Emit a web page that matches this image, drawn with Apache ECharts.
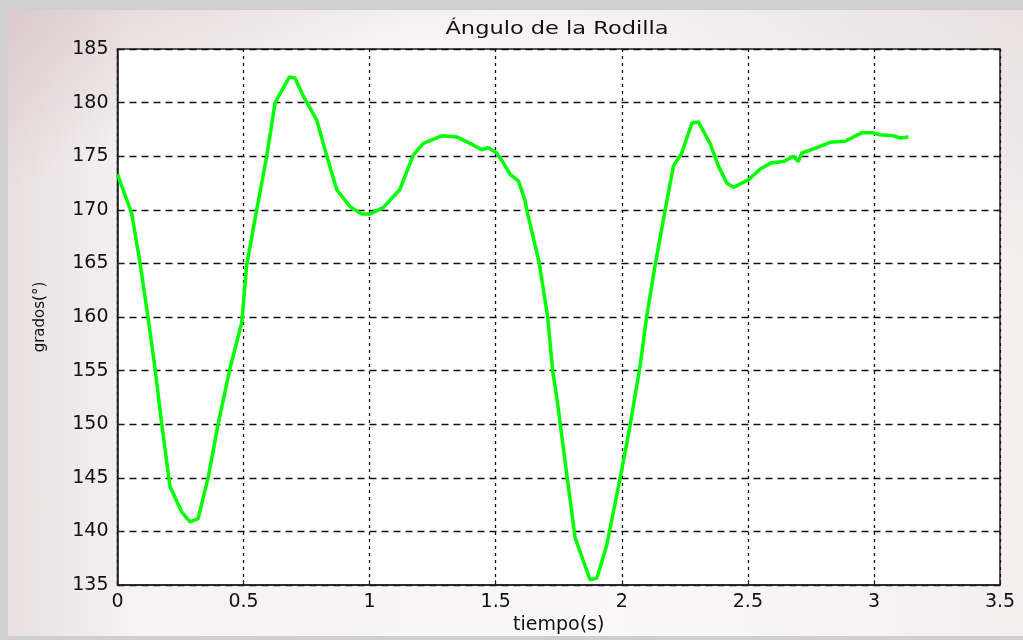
<!DOCTYPE html>
<html>
<head>
<meta charset="utf-8">
<script src="https://cdn.jsdelivr.net/npm/echarts@6/dist/echarts.min.js"></script>
<style>
html,body{margin:0;padding:0;width:1023px;height:640px;overflow:hidden;background:#cfcfcf;}
#bg{position:absolute;left:8px;top:10px;width:1015px;height:626px;
background:
 linear-gradient(160deg, rgba(190,160,165,0.35) 0%, rgba(255,255,255,0) 18%),
 linear-gradient(200deg, rgba(200,180,185,0.25) 0%, rgba(255,255,255,0) 25%),
 linear-gradient(90deg, #e9dfe1 0%, #f6f1f2 12%, #faf8f8 60%, #f4eeef 100%);}
#chart{position:absolute;left:0;top:0;width:1023px;height:640px;}
</style>
</head>
<body>
<div id="bg"></div>
<div id="chart"></div>
<script>
const titleText = "Ángulo de la Rodilla";
const xName = "tiempo(s)";
const yName = "grados(°)";
const time = [0,0.056,0.089,0.122,0.149,0.175,0.208,0.255,0.288,0.32,0.36,0.40,0.446,0.493,0.512,0.552,0.592,0.625,0.682,0.704,0.737,0.79,0.823,0.869,0.922,0.969,1.0,1.054,1.12,1.173,1.213,1.286,1.345,1.398,1.445,1.471,1.504,1.53,1.557,1.59,1.616,1.623,1.673,1.706,1.726,1.745,1.782,1.815,1.874,1.901,1.94,1.993,2.033,2.073,2.099,2.132,2.172,2.205,2.238,2.278,2.304,2.35,2.383,2.416,2.443,2.502,2.549,2.595,2.641,2.681,2.70,2.714,2.774,2.826,2.886,2.952,2.992,3.025,3.077,3.104,3.137];
const angle = [173.3,169.7,165.1,159.8,155.2,150.1,144.2,141.8,140.9,141.2,145.1,150.1,155.2,159.5,164.8,170.0,175.0,180.0,182.4,182.3,180.6,178.4,175.6,171.9,170.3,169.6,169.6,170.2,171.9,175.1,176.2,176.9,176.8,176.2,175.6,175.8,175.3,174.4,173.3,172.7,170.9,170.0,165.0,160.0,155.0,152.0,145.3,139.4,135.5,135.65,138.7,144.9,149.9,155.5,160.1,164.8,170.0,174.1,175.3,178.1,178.2,176.2,174.1,172.5,172.1,172.8,173.8,174.4,174.5,175.0,174.5,175.3,175.8,176.3,176.4,177.2,177.2,177.0,176.9,176.7,176.8];

const data = time.map((t,i)=>[t, angle[i]]);
const font = "DejaVu Sans";
const chart = echarts.init(document.getElementById('chart'), null, {renderer:'canvas'});
chart.setOption({
  animation:false,
  backgroundColor:'transparent',
  graphic:[{type:'text',x:557,y:29,scaleX:1.25,
    style:{text:titleText,fontFamily:font,fontSize:18,fill:'#111',align:'center',verticalAlign:'middle'}}],
  grid:{left:117.5,right:23,top:49,bottom:53,show:true,backgroundColor:'#fff',borderColor:'#222',borderWidth:1.5},
  xAxis:{type:'value',min:0,max:3.5,interval:0.5,
    name:xName,nameLocation:'middle',nameGap:30,
    nameTextStyle:{fontFamily:font,fontSize:19,color:'#111'},
    axisLine:{show:true,lineStyle:{color:'#222',width:1.5}},
    axisTick:{show:true,inside:true,length:5,lineStyle:{color:'#222'}},
    axisLabel:{fontFamily:font,fontSize:19,color:'#111',margin:7},
    splitLine:{show:true,lineStyle:{color:'#111',type:[3,4],width:1.3}}},
  yAxis:{type:'value',min:135,max:185,interval:5,
    name:yName,nameLocation:'middle',nameGap:70,nameRotate:90,
    nameTextStyle:{fontFamily:font,fontSize:15,color:'#111'},
    axisLine:{show:true,lineStyle:{color:'#222',width:1.5}},
    axisTick:{show:true,inside:true,length:5,lineStyle:{color:'#222'}},
    axisLabel:{fontFamily:font,fontSize:19,color:'#111',margin:9},
    splitLine:{show:true,lineStyle:{color:'#111',type:[7,5],width:1.3}}},
  series:[{type:'line',data:data,showSymbol:false,smooth:false,
    lineStyle:{color:'#00ff00',width:3.5},itemStyle:{color:'#00ff00'}}]
});
</script>
</body>
</html>
